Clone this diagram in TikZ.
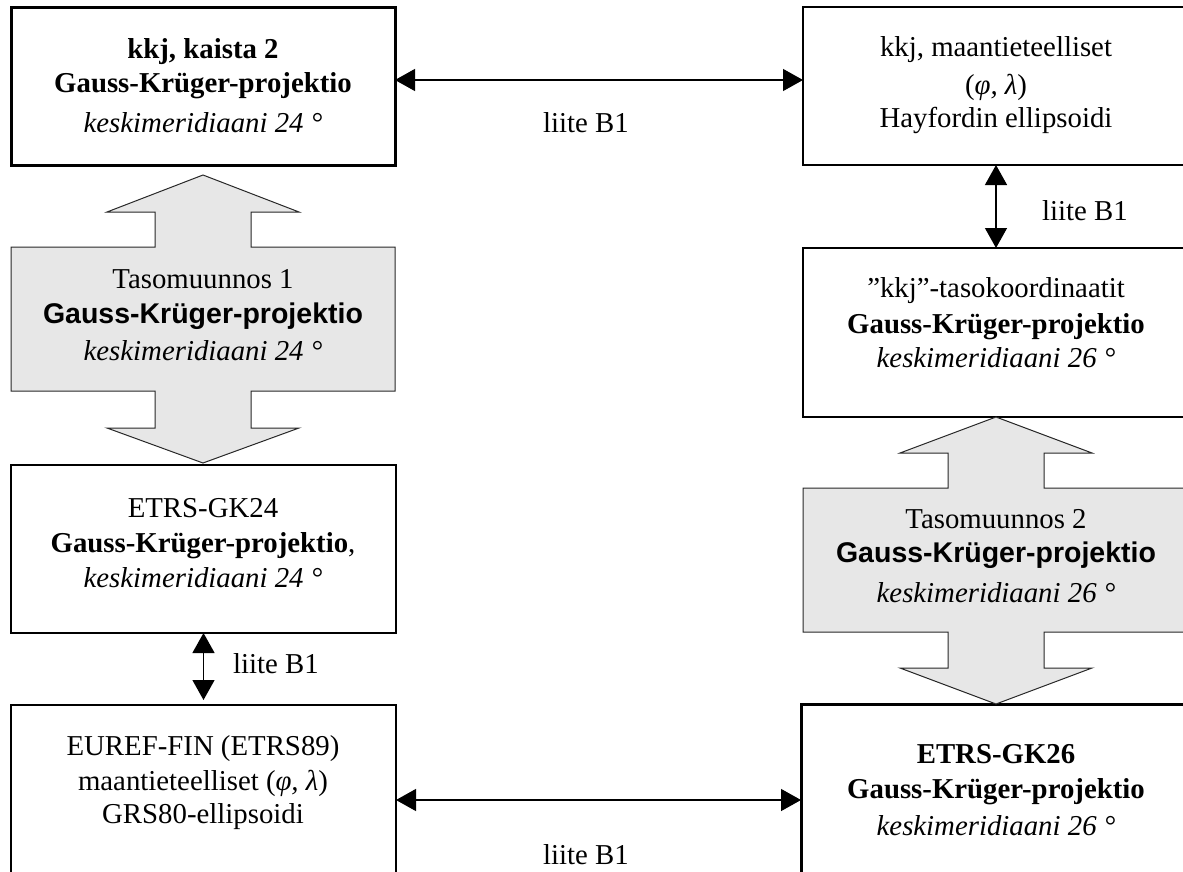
\documentclass[tikz,border=0pt]{standalone}
\usepackage{fontspec}
\setmainfont{Liberation Serif}
\setsansfont{Liberation Sans}
\usetikzlibrary{arrows.meta}
\definecolor{arrowgray}{RGB}{231,231,231}
\definecolor{arrowedge}{RGB}{40,40,40}
\begin{document}
\begin{tikzpicture}[x=1pt,y=-1pt,
  frame/.style={draw=black, line width=1.1pt, inner sep=0pt, outer sep=0pt},
  thickframe/.style={frame, line width=3pt},
  rm/.style={anchor=base, inner sep=0pt, font=\fontsize{28.8}{33}\selectfont},
  bf/.style={rm, font=\fontsize{28.8}{33}\selectfont\bfseries},
  it/.style={rm, font=\fontsize{28.8}{33}\selectfont\itshape},
  sfb/.style={rm, font=\fontsize{28.5}{33}\selectfont\sffamily\bfseries},
  link/.style={line width=1.3pt,
    {Triangle[length=20pt,width=22pt]}-{Triangle[length=20pt,width=22pt]}},
  bigarrow/.style={fill=arrowgray, draw=arrowedge, line width=1pt, line join=miter}]
\useasboundingbox (0,0) rectangle (1183,872);
\clip (0,0) rectangle (1183,872);

% coordinate systems (boxes)
\node[thickframe, minimum width=384pt, minimum height=157pt] (A) at (203,86.5) {};
\node[frame, minimum width=386pt, minimum height=158pt] (B) at (996,86) {};
\node[frame, minimum width=386pt, minimum height=169pt] (C) at (996,332.5) {};
\node[frame, minimum width=385pt, minimum height=168pt] (D) at (203.5,549) {};
\node[frame, minimum width=385pt, minimum height=190pt] (E) at (203.5,800) {};
\node[thickframe, minimum width=389pt, minimum height=192pt] (F) at (995.5,800) {};

% plane transformations (wide double arrows)
\path[bigarrow] (203,175) -- (299,212) -- (251,212) -- (251,247) -- (395,247)
  -- (395,391) -- (251,391) -- (251,428) -- (299,428) -- (203,463) -- (107,428)
  -- (155,428) -- (155,391) -- (11,391) -- (11,247) -- (155,247) -- (155,212)
  -- (107,212) -- cycle;
\path[bigarrow] (996,417) -- (1092,453) -- (1044,453) -- (1044,488) -- (1195,488)
  -- (1195,632) -- (1044,632) -- (1044,668) -- (1092,668) -- (996,704) -- (900,668)
  -- (948,668) -- (948,632) -- (803,632) -- (803,488) -- (948,488) -- (948,453)
  -- (900,453) -- cycle;

% box texts
\node[bf] (a1) at (203,59) {kkj, kaista 2};
\node[bf] (a2) at (203,93) {Gauss-Krüger-projektio};
\node[it] (a3) at (203,133) {keskimeridiaani 24 °};

\node[rm] (b1) at (996,57) {kkj, maantieteelliset};
\node[rm] (b2) at (996,95) {(\textit{φ, λ})};
\node[rm] (b3) at (996,128) {Hayfordin ellipsoidi};

\node[rm] (c1) at (996,297) {”kkj”-tasokoordinaatit};
\node[bf] (c2) at (996,333) {Gauss-Krüger-projektio};
\node[it] (c3) at (996,367) {keskimeridiaani 26 °};

\node[rm] (g1) at (203,288) {Tasomuunnos 1};
\node[sfb] (g2) at (203,323) {Gauss-Krüger-projektio};
\node[it] (g3) at (203,360) {keskimeridiaani 24 °};

\node[rm] (h1) at (996,528) {Tasomuunnos 2};
\node[sfb] (h2) at (996,562) {Gauss-Krüger-projektio};
\node[it] (h3) at (996,602) {keskimeridiaani 26 °};

\node[rm] (d1) at (203,517) {ETRS-GK24};
\node[rm] (d2) at (203,552) {\textbf{Gauss-Krüger-projektio},};
\node[it] (d3) at (203,587) {keskimeridiaani 24 °};

\node[rm] (e1) at (203,755) {EUREF-FIN (ETRS89)};
\node[rm] (e2) at (203,790) {maantieteelliset (\textit{φ, λ})};
\node[rm] (e3) at (203,823) {GRS80-ellipsoidi};

\node[bf] (f1) at (996,763) {ETRS-GK26};
\node[bf] (f2) at (996,798) {Gauss-Krüger-projektio};
\node[it] (f3) at (996,835) {keskimeridiaani 26 °};

% conversions
\draw[link] ([yshift=6.5pt]A.east) -- ([yshift=6pt]B.west);
\draw[link] (B.south) -- (C.north);
\draw[link, shorten >=5pt] (D.south) -- (E.north);
\draw[link] (E.east) -- (F.west);

\node[rm] (l1) at (586,133) {liite B1};
\node[rm, anchor=base west] (l2) at (1042,220) {liite B1};
\node[rm, anchor=base west] (l3) at (233,673) {liite B1};
\node[rm] (l4) at (586,864) {liite B1};
\end{tikzpicture}
\end{document}
